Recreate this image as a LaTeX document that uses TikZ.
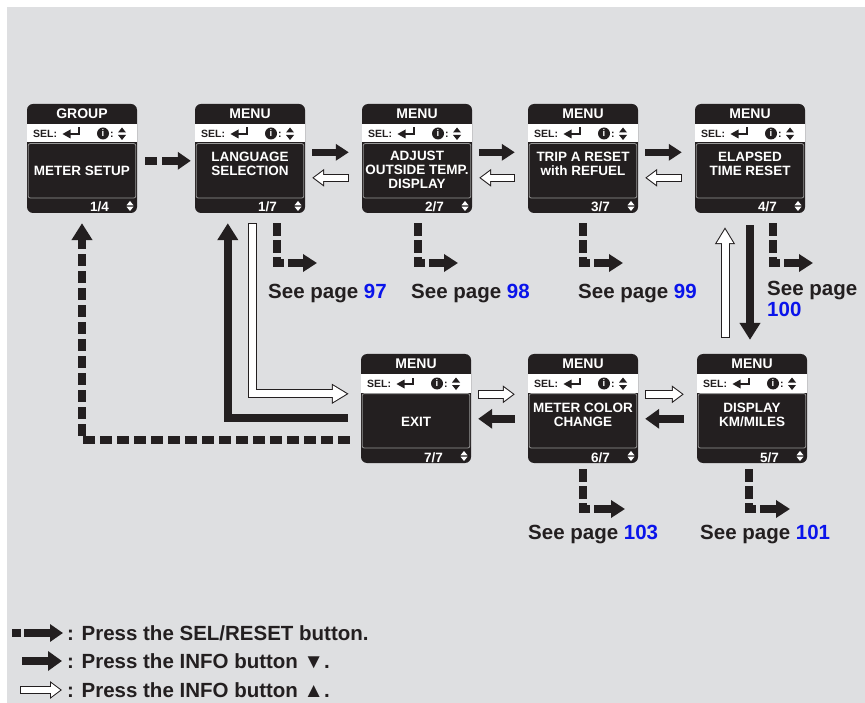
\documentclass[tikz,border=0pt]{standalone}
\usepackage{fontspec}
\setmainfont{Liberation Sans}
\usetikzlibrary{arrows.meta,calc}
\definecolor{lcd}{RGB}{35,31,32}
\definecolor{bgg}{RGB}{222,223,225}
\definecolor{pgblue}{RGB}{10,20,235}
\definecolor{scrgray}{RGB}{150,150,150}
\tikzset{
 scrbox/.style={fill=lcd, rounded corners=6pt, minimum width=110pt, minimum height=109pt, inner sep=0pt, draw=none},
 ttl/.style={text=white, font=\fontsize{14}{14}\selectfont\bfseries, inner sep=0pt, anchor=base},
 seltxt/.style={text=lcd, font=\fontsize{10.5}{10.5}\selectfont\bfseries, inner sep=0pt, anchor=base west},
 bodytxt/.style={text=white, font=\fontsize{13.5}{14}\selectfont\bfseries, inner sep=0pt, align=center},
 pagetxt/.style={text=white, font=\fontsize{13.5}{13.5}\selectfont\bfseries, inner sep=0pt, anchor=base east},
 lbl/.style={text=lcd, font=\fontsize{20.5}{21}\selectfont\bfseries, inner sep=0pt, anchor=base west},
 blkS/.style={draw=lcd, line width=6.5pt, -{Triangle[length=13pt,width=16pt]}},
 blkM/.style={draw=lcd, line width=8pt, -{Triangle[length=14pt,width=19pt]}},
 blkL/.style={draw=lcd, line width=8pt, -{Triangle[length=17pt,width=20pt]}},
 whtS/.style={preaction={draw=lcd, line width=8.5pt, -{Triangle[length=12pt,width=17pt]}, shorten >=0pt, shorten <=0pt},
   draw=white, line width=6.5pt, -{Triangle[length=9.27pt,width=13.1pt]}, shorten >=1.73pt, shorten <=1pt},
 whtL/.style={preaction={draw=lcd, line width=9pt, -{Triangle[length=17pt,width=19pt]}, shorten >=0pt, shorten <=0pt},
   draw=white, line width=7pt, -{Triangle[length=13.9pt,width=15.6pt]}, shorten >=2.05pt, shorten <=1pt},
 seepage/.style={draw=lcd, line width=8pt, dash pattern=on 13pt off 4pt on 13pt off 4pt on 13pt off 4pt on 60pt, -{Triangle[length=14pt,width=17pt]}},
 selS/.style={draw=lcd, line width=7.5pt, dash pattern=on 12pt off 5pt on 40pt, -{Triangle[length=13pt,width=17pt]}},
 selL/.style={draw=lcd, line width=8pt, dash pattern=on 12pt off 5pt, -{Triangle[length=17pt,width=20pt]}},
}
\newcommand\mkscreen[8]{%
 \begin{scope}[shift={(#2,#3)}]
  \node[scrbox] (#1) at (55,54.5) {};
  \fill[white] (0,20) rectangle (110,38.5);
  \draw[scrgray, line width=0.8pt, rounded corners=2pt] (1.2,39.6) rectangle (108.8,94);
  \node[ttl] at (55,14.5) {#4};
  \node[seltxt] at (6,33.5) {SEL:};
  \fill[lcd] (35.5,30) -- (43.5,25.5) -- (43.5,34.5) -- cycle;
  \draw[lcd, line width=2.8pt] (42,30) -- (52,30) -- (52,23.5);
  \fill[lcd] (76,29.5) circle (6pt);
  \node[text=white, font=\fontsize{9.5}{9.5}\selectfont\bfseries, inner sep=0pt] at (76,29.5) {i};
  \node[seltxt] at (83,33.5) {:};
  \fill[lcd] (95,23.5) -- (99,28.5) -- (91,28.5) -- cycle;
  \fill[lcd] (95,36) -- (99,31) -- (91,31) -- cycle;
  \node[bodytxt, #7] at (55,#8) {#5};
  \node[pagetxt] at (82,108) {#6};
  \fill[white] (103,97) -- (106.5,101.3) -- (99.5,101.3) -- cycle;
  \fill[white] (103,107) -- (106.5,102.7) -- (99.5,102.7) -- cycle;
 \end{scope}}
\begin{document}
\begin{tikzpicture}[x=1pt,y=-1pt]
\useasboundingbox (0,0) rectangle (865,703);
\fill[white] (0,0) rectangle (865,703);
\fill[bgg] (7,7) rectangle (865,703);

\mkscreen{meter}{27}{104}{GROUP}{METER SETUP}{1/4}{anchor=center}{67}
\mkscreen{lang}{195}{104}{MENU}{LANGUAGE\\SELECTION}{1/7}{anchor=north}{48}
\mkscreen{adjust}{362}{104}{MENU}{ADJUST\\OUTSIDE TEMP.\\DISPLAY}{2/7}{anchor=north}{47}
\mkscreen{trip}{528}{104}{MENU}{TRIP A RESET\\with REFUEL}{3/7}{anchor=north}{48}
\mkscreen{elapsed}{695}{104}{MENU}{ELAPSED\\TIME RESET}{4/7}{anchor=north}{48}
\mkscreen{exit}{361}{354}{MENU}{EXIT}{7/7}{anchor=center}{68}
\mkscreen{color}{528}{354}{MENU}{METER COLOR\\CHANGE}{6/7}{anchor=north}{49}
\mkscreen{display}{697}{354}{MENU}{DISPLAY\\KM/MILES}{5/7}{anchor=north}{49}

% top row
\draw[selS] ($(meter.north east)+(8,57)$) -- ($(lang.north west)+(-4,57)$);
\foreach \a/\b in {lang/adjust,adjust/trip,trip/elapsed}{
  \draw[blkS] ($(\a.north east)+(7,48.5)$) -- ($(\b.north west)+(-13,48.5)$);
  \draw[whtS] ($(\b.north west)+(-13,74)$) -- ($(\a.north east)+(7,74)$);
}
% vertical pair
\draw[blkL] ($(elapsed.south)+(0,12)$) -- ($(display.north -| elapsed.south)+(0,-14)$);
\draw[whtL] ($(display.north -| elapsed.south)+(-25,-16)$) -- ($(elapsed.south)+(-25,14)$);
% bottom row
\foreach \a/\b in {exit/color,color/display}{
  \draw[whtS] ($(\a.north east)+(7,40.5)$) -- ($(\b.north west)+(-13,40.5)$);
  \draw[blkM] ($(\b.north west)+(-13,65)$) -- ($(\a.north east)+(7,65)$);
}
% long connectors
\draw[selL] ($(exit.north west)+(-11,86)$) -| ($(meter.south)+(0,10)$);
\draw[blkL] ($(exit.north west)+(-13,64)$) -| ($(lang.south west)+(33,10)$);
\draw[whtL] ($(lang.south west)+(58,10)$) |- ($(exit.north west)+(-12,40)$);

% see page connectors
\coordinate (t97) at (317,263);
\coordinate (t98) at (458,263);
\coordinate (t99) at (623,263);
\coordinate (t100) at (813,263);
\coordinate (t103) at (625,509);
\coordinate (t101) at (790,509);
\draw[seepage] ($(lang.south west)+(82,10)$) |- (t97);
\draw[seepage] ($(adjust.south west)+(56,10)$) |- (t98);
\draw[seepage] ($(trip.south west)+(55,10)$) |- (t99);
\draw[seepage] ($(elapsed.south west)+(78,10)$) |- (t100);
\draw[seepage] ($(color.south west)+(55,6)$) |- (t103);
\draw[seepage] ($(display.south west)+(52,6)$) |- (t101);

\node[lbl] (p97) at (268,299) {See page \textcolor{pgblue}{97}};
\node[lbl] (p98) at (411,299) {See page \textcolor{pgblue}{98}};
\node[lbl] (p99) at (578,299) {See page \textcolor{pgblue}{99}};
\node[lbl] (p100a) at (767,296) {See page};
\node[lbl] (p100) at (767,317) {\textcolor{pgblue}{100}};
\node[lbl] (p103) at (528,539) {See page \textcolor{pgblue}{103}};
\node[lbl] (p101) at (700,539) {See page \textcolor{pgblue}{101}};

% legend
\coordinate (la1) at (12,633); \coordinate (lb1) at (63,633);
\coordinate (la2) at (22,661); \coordinate (lb2) at (62,661);
\coordinate (la3) at (20,690); \coordinate (lb3) at (62,690);
\draw[selS, dash pattern=on 9pt off 3pt on 40pt] (la1) -- (lb1);
\draw[blkM] (la2) -- (lb2);
\draw[whtS] (la3) -- (lb3);
\node[lbl] (leg1) at (67,640) {: Press the SEL/RESET button.};
\node[lbl] (leg2) at (67,668) {: Press the INFO button ▼.};
\node[lbl] (leg3) at (67,697) {: Press the INFO button ▲.};
\end{tikzpicture}
\end{document}
